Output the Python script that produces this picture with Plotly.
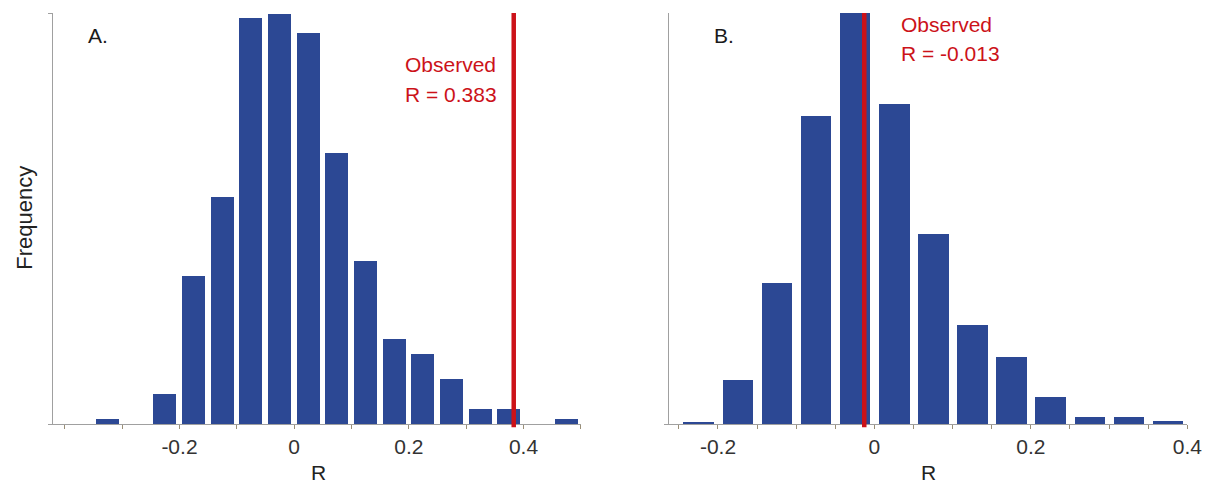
import plotly.graph_objects as go

# Permutation null distributions of R (bin width 0.05), frequencies in arbitrary units
bins_a = [-0.325, -0.275, -0.225, -0.175, -0.125, -0.075, -0.025, 0.025,
          0.075, 0.125, 0.175, 0.225, 0.275, 0.325, 0.375, 0.425, 0.475]
freq_a = [5, 0, 30, 148, 227, 406, 410, 391, 271, 163, 85, 70, 45, 15, 15, 0, 5]
observed_a = 0.383

bins_b = [-0.225, -0.175, -0.125, -0.075, -0.025, 0.025, 0.075, 0.125,
          0.175, 0.225, 0.275, 0.325, 0.375]
freq_b = [2, 44, 141, 307, 410, 319, 190, 99, 67, 27, 7, 7, 3]
observed_b = -0.013

ticks_a = [-0.4, -0.3, -0.2, -0.1, 0.0, 0.1, 0.2, 0.3, 0.4, 0.5]
ticks_b = [-0.25, -0.2, -0.15, -0.1, -0.05, 0.0, 0.05, 0.1, 0.15, 0.2, 0.25, 0.3, 0.35, 0.4]
labelled = {-0.2: "-0.2", 0.0: "0", 0.2: "0.2", 0.4: "0.4"}

BAR = "#2c4894"
RED = "#cc1219"
AXIS = "#a0a0a0"
TICK = "#9a8f78"
FONT = "Liberation Sans, Arial, sans-serif"
W, H = 1226, 484
RANGE_A = [-0.42, 0.5]
RANGE_B = [-0.263, 0.4]


def px_y(y):
    return 1 - y / H


fig = go.Figure()
fig.add_trace(go.Bar(x=bins_a, y=freq_a, width=0.04, marker=dict(color=BAR, line=dict(width=0)),
                     xaxis="x", yaxis="y", showlegend=False))
fig.add_trace(go.Bar(x=bins_b, y=freq_b, width=0.039, marker=dict(color=BAR, line=dict(width=0)),
                     xaxis="x2", yaxis="y2", showlegend=False))


def tick_text(vals):
    return [labelled.get(round(v, 2), "") for v in vals]


xcommon = dict(showgrid=False, zeroline=False, showline=True, linecolor=AXIS, linewidth=1.3,
               ticks="outside", ticklen=4, tickcolor=TICK, tickwidth=1.3,
               tickfont=dict(family=FONT, size=21, color="#333333"), tickmode="array")
# inner half of the crossing tick marks
xinner = dict(showgrid=False, zeroline=False, showline=False, ticks="inside", ticklen=3,
              tickcolor=TICK, tickwidth=1.3, showticklabels=False, tickmode="array")
ycommon = dict(showgrid=False, zeroline=False, showline=True, linecolor=AXIS, linewidth=1.3,
               ticks="outside", ticklen=4, tickcolor=AXIS, showticklabels=False, tickmode="array")

ydom = [px_y(424), px_y(13)]
dom_a = [54 / W, 588 / W]
dom_b = [677 / W, 1202 / W]
fig.update_layout(
    width=W, height=H, autosize=False,
    margin=dict(l=0, r=0, t=0, b=0),
    paper_bgcolor="white", plot_bgcolor="white",
    bargap=0,
    xaxis=dict(xcommon, domain=dom_a, range=RANGE_A,
               tickvals=ticks_a, ticktext=tick_text(ticks_a), anchor="y"),
    yaxis=dict(ycommon, domain=ydom, range=[0, 411], tickvals=[0, 411], anchor="x"),
    xaxis2=dict(xcommon, domain=dom_b, range=RANGE_B,
                tickvals=ticks_b, ticktext=tick_text(ticks_b), anchor="y2"),
    yaxis2=dict(ycommon, domain=ydom, range=[0, 410], tickvals=[0], anchor="x2"),
    xaxis3=dict(xinner, domain=dom_a, range=RANGE_A, tickvals=ticks_a, overlaying="x", anchor="y"),
    xaxis4=dict(xinner, domain=dom_b, range=RANGE_B, tickvals=ticks_b, overlaying="x2", anchor="y2"),
)

# Observed statistic markers
for xref, yref, val in (("x", "y domain", observed_a), ("x2", "y2 domain", observed_b)):
    fig.add_shape(type="line", xref=xref, yref=yref, x0=val, x1=val, y0=-0.008, y1=1,
                  line=dict(color=RED, width=4.5), layer="above")


def label(text, x, y, size=21, color="#1a1a1a", **kw):
    fig.add_annotation(text=text, x=x / W, y=px_y(y), xref="paper", yref="paper",
                       showarrow=False, xanchor=kw.pop("xanchor", "left"), yanchor="middle",
                       font=dict(family=FONT, size=size, color=color), **kw)


label("A.", 87, 35, size=21)
label("B.", 721, 35, size=21)
label("Observed", 408, 65, color=RED)
label(f"R = {observed_a:.3f}", 408, 94, color=RED)
label("Observed", 910, 24, color=RED)
label(f"R = {observed_b:.3f}", 910, 53, color=RED)
label("R", 322, 472, size=21, color="#222222", xanchor="center")
label("R", 940, 472, size=21, color="#222222", xanchor="center")
label("Frequency", 25, 218, size=22, color="#222222", xanchor="center", textangle=-90)

fig.write_html("out.html", config={"responsive": False})
